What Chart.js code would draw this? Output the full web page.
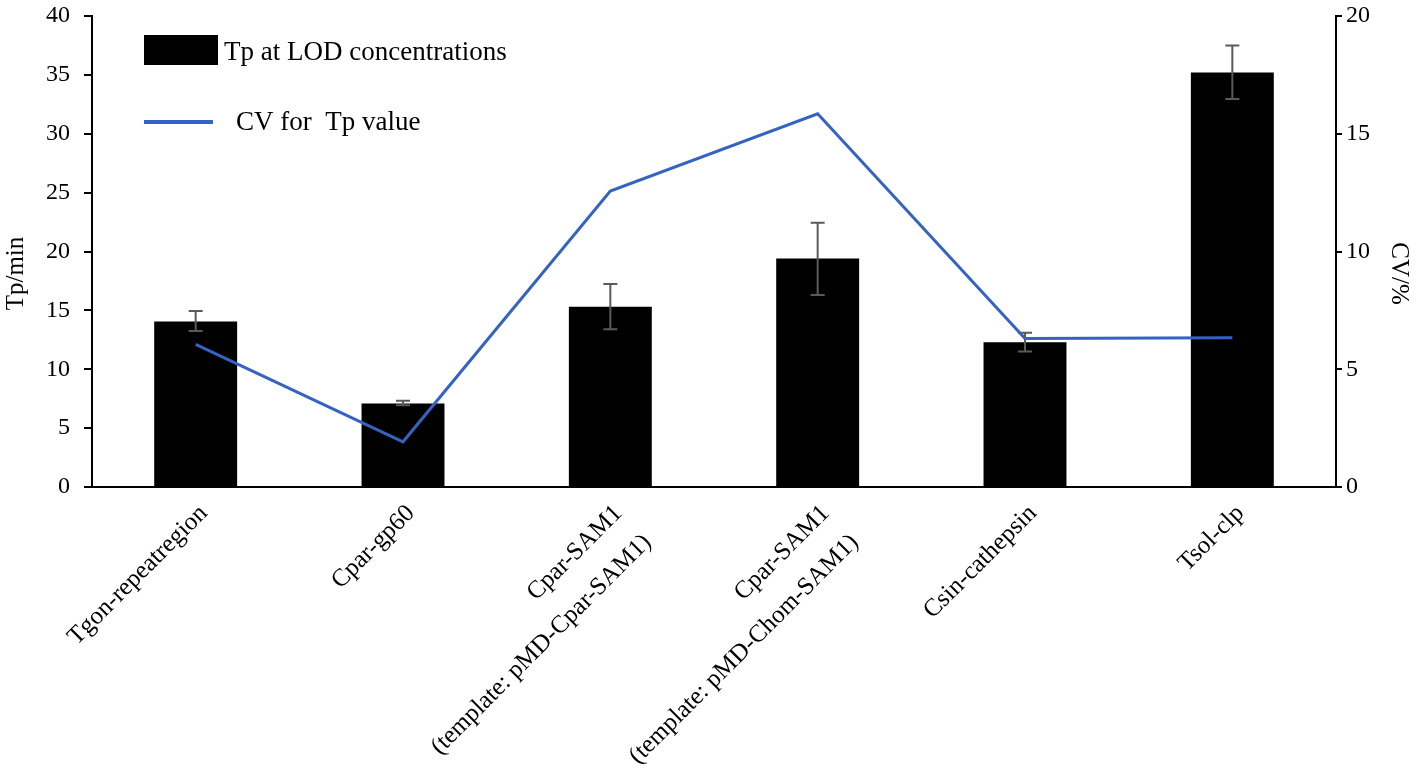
<!DOCTYPE html>
<html>
<head>
<meta charset="utf-8">
<script src="https://cdn.jsdelivr.net/npm/chart.js@4.4.1/dist/chart.umd.min.js"></script>
<style>
  html, body { margin: 0; padding: 0; background: #fff; }
  #wrap { width: 1418px; height: 784px; }
</style>
</head>
<body>
<div id="wrap"><canvas id="chart"></canvas></div>
<script>
// categories on the x axis (multi-line ones as arrays)
const categories = [
  'Tgon-repeatregion',
  'Cpar-gp60',
  ['Cpar-SAM1', '(template: pMD-Cpar-SAM1)'],
  ['Cpar-SAM1', '(template: pMD-Chom-SAM1)'],
  'Csin-cathepsin',
  'Tsol-clp'
];

// Tp (min) at LOD concentrations, with error bar ends
const tpValues  = [14.05, 7.1, 15.3, 19.4, 12.3, 35.2];
const tpErrHigh = [14.95, 7.33, 17.25, 22.45, 13.1, 37.5];
const tpErrLow  = [13.25, 6.95, 13.4, 16.3, 11.5, 32.95];

// CV (%) for Tp value, right axis
const cvValues = [6.06, 1.92, 12.57, 15.85, 6.31, 6.34];

// axis ranges and titles
const tpAxis = { min: 0, max: 40, step: 5, title: 'Tp/min' };
const cvAxis = { min: 0, max: 20, step: 5, title: 'CV/%' };

const FONT = "'Liberation Serif', 'Times New Roman', serif";
const BLUE = '#3563C4';

// error bars drawn right after the bar dataset
const errorBars = {
  id: 'errorBars',
  afterDatasetDraw(chart, args) {
    if (args.index !== 1) return;
    const ctx = chart.ctx;
    const y = chart.scales.y;
    ctx.save();
    ctx.strokeStyle = '#5a5a5a';
    ctx.lineWidth = 2;
    args.meta.data.forEach((bar, i) => {
      const top = y.getPixelForValue(tpErrHigh[i]);
      const bot = y.getPixelForValue(tpErrLow[i]);
      ctx.beginPath();
      ctx.moveTo(bar.x, top); ctx.lineTo(bar.x, bot);
      ctx.moveTo(bar.x - 7, top); ctx.lineTo(bar.x + 7, top);
      ctx.moveTo(bar.x - 7, bot); ctx.lineTo(bar.x + 7, bot);
      ctx.stroke();
    });
    ctx.restore();
  }
};

// legend inside the plot (top left) and the two axis titles
const insideLegend = {
  id: 'insideLegend',
  afterDraw(chart) {
    const ctx = chart.ctx;
    const ds = chart.data.datasets;
    const area = chart.chartArea;
    ctx.save();
    ctx.font = '27px ' + FONT;
    ctx.fillStyle = '#000';
    ctx.textBaseline = 'middle';
    ctx.textAlign = 'left';
    ctx.fillRect(144, 35, 74, 30);
    ctx.fillText(ds[1].label, 224, 53);
    ctx.strokeStyle = BLUE;
    ctx.lineWidth = 4;
    ctx.beginPath();
    ctx.moveTo(144, 122); ctx.lineTo(213, 122);
    ctx.stroke();
    ctx.fillText(ds[0].label, 236, 123);

    // axis titles, set a bit below the middle like the original
    const midY = (area.top + area.bottom) / 2 + 22;
    ctx.font = '25px ' + FONT;
    ctx.textAlign = 'center';
    ctx.save();
    ctx.translate(16, midY);
    ctx.rotate(-Math.PI / 2);
    ctx.fillText(tpAxis.title, 0, 0);
    ctx.restore();
    ctx.save();
    ctx.translate(1399, midY);
    ctx.rotate(Math.PI / 2);
    ctx.fillText(cvAxis.title, 0, 0);
    ctx.restore();
    ctx.restore();
  }
};

// fixed widths for the y axes; drop the label overflow padding so the plot starts at the top padding
const fitY = w => s => { s.width = w; s.paddingTop = 0; s.paddingBottom = 0; };

new Chart(document.getElementById('chart'), {
  type: 'bar',
  data: {
    labels: categories,
    datasets: [
      {
        type: 'line',
        label: 'CV for  Tp value',
        data: cvValues,
        yAxisID: 'y1',
        borderColor: BLUE,
        borderWidth: 3,
        pointRadius: 0,
        tension: 0,
        fill: false
      },
      {
        type: 'bar',
        label: 'Tp at LOD concentrations',
        data: tpValues,
        yAxisID: 'y',
        backgroundColor: '#000',
        borderWidth: 0,
        barPercentage: 0.4,
        categoryPercentage: 1.0
      }
    ]
  },
  options: {
    responsive: true,
    maintainAspectRatio: false,
    animation: false,
    layout: { padding: { top: 16, left: 0, right: 0, bottom: 0 } },
    plugins: {
      legend: { display: false },
      tooltip: { enabled: false }
    },
    scales: {
      x: {
        grid: { display: false, drawTicks: false },
        border: { display: true, color: '#000', width: 2 },
        ticks: {
          color: '#000',
          font: { family: FONT, size: 25, lineHeight: 1.65 },
          maxRotation: 45,
          minRotation: 45,
          padding: 8,
          labelOffset: 8,
          autoSkip: false
        },
        afterFit: s => { s.height = 297; }
      },
      y: {
        position: 'left',
        min: tpAxis.min,
        max: tpAxis.max,
        ticks: { stepSize: tpAxis.step, color: '#000', font: { family: FONT, size: 24 }, padding: 14 },
        grid: { drawOnChartArea: false, drawTicks: true, tickLength: 8, color: '#000', lineWidth: 2 },
        border: { display: true, color: '#000', width: 2 },
        afterFit: fitY(92)
      },
      y1: {
        position: 'right',
        min: cvAxis.min,
        max: cvAxis.max,
        ticks: { stepSize: cvAxis.step, color: '#000', font: { family: FONT, size: 24 }, padding: 4 },
        grid: { drawOnChartArea: false, drawTicks: true, tickLength: 6, color: '#000', lineWidth: 2 },
        border: { display: true, color: '#000', width: 2 },
        afterFit: fitY(82)
      }
    }
  },
  plugins: [errorBars, insideLegend]
});
</script>
</body>
</html>
